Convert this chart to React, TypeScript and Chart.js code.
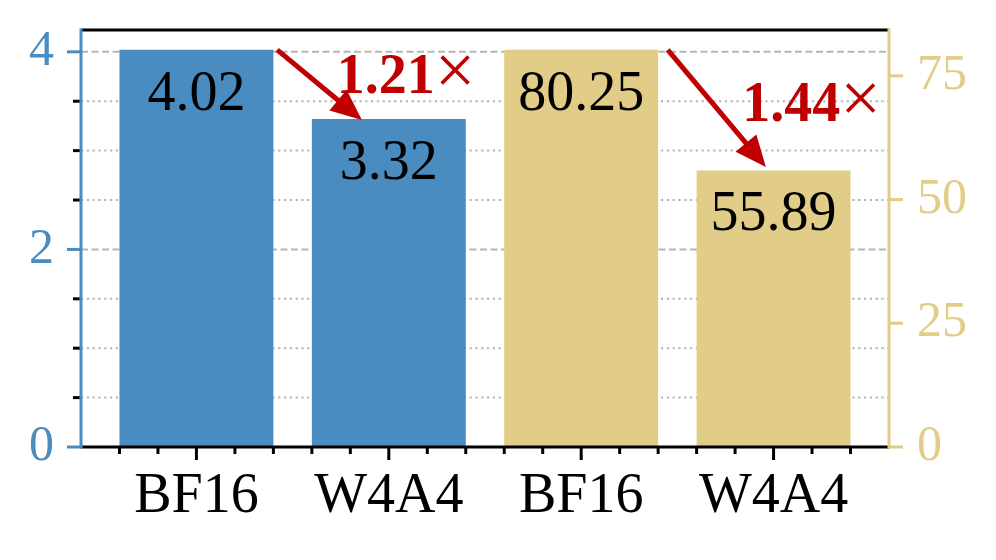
import { useEffect, useRef } from "react";
import { Chart, registerables } from "chart.js";

Chart.register(...registerables);

// ---- data ----
const categories = ["BF16", "W4A4", "BF16", "W4A4"];
const leftValues = [4.02, 3.32];
const rightValues = [80.25, 55.89];
const leftMajorTicks = [0, 2, 4];
const leftMinorTicks = [0.5, 1, 1.5, 2.5, 3, 3.5];
const rightMajorTicks = [0, 25, 50, 75];
const speedupLabels = ["1.21", "1.44"];

// annotation anchors (data coordinates): [x, y, axisId]
const arrowFrom: [number, number, string][] = [
  [0.42, 4.02, "y"],
  [2.45, 80.25, "y1"],
];
const arrowTo: [number, number, string][] = [
  [0.86, 3.31, "y"],
  [2.96, 56.6, "y1"],
];
const speedupAt: [number, number, string][] = [
  [1.09, 3.585, "y"],
  [3.197, 65.8, "y1"],
];

const SERIF = '"Liberation Serif", "Times New Roman", "DejaVu Serif", serif';
const RED = "#C00000";
const BLUE = "#4A8CBF";
const GOLD = "#E2CD88";
const GRID = "#b5b5b5";

function drawArrow(ctx: CanvasRenderingContext2D, x1: number, y1: number, x2: number, y2: number) {
  const ang = Math.atan2(y2 - y1, x2 - x1);
  const hl = 31;
  const hw = 13.5;
  const c = Math.cos(ang);
  const s = Math.sin(ang);
  const bx = x2 - hl * c;
  const by = y2 - hl * s;
  ctx.strokeStyle = RED;
  ctx.fillStyle = RED;
  ctx.lineWidth = 5;
  ctx.lineCap = "butt";
  ctx.setLineDash([]);
  ctx.beginPath();
  ctx.moveTo(x1, y1);
  ctx.lineTo(bx + 2 * c, by + 2 * s);
  ctx.stroke();
  ctx.beginPath();
  ctx.moveTo(x2, y2);
  ctx.lineTo(bx + hw * s, by - hw * c);
  ctx.lineTo(bx - hw * s, by + hw * c);
  ctx.closePath();
  ctx.fill();
}

const decorPlugin = {
  id: "decor",
  beforeDatasetsDraw(chart: any) {
    const { ctx, chartArea: a, scales } = chart;
    const y = scales.y;
    ctx.save();
    ctx.strokeStyle = GRID;
    ctx.lineWidth = 2;
    ctx.lineCap = "butt";
    const lines = [
      ...leftMajorTicks.filter((v) => v > 0).map((v) => ({ v, major: true })),
      ...leftMinorTicks.map((v) => ({ v, major: false })),
    ];
    for (const { v, major } of lines) {
      const py = y.getPixelForValue(v);
      ctx.setLineDash(major ? [7, 3.5] : [2.2, 3.6]);
      ctx.beginPath();
      ctx.moveTo(a.left, py);
      ctx.lineTo(a.right, py);
      ctx.stroke();
    }
    ctx.restore();
  },
  afterDatasetsDraw(chart: any) {
    const { ctx, chartArea: a, scales } = chart;
    const x = scales.x;
    const y = scales.y;
    const y1 = scales.y1;
    ctx.save();
    ctx.setLineDash([]);
    ctx.lineCap = "butt";

    // value labels
    ctx.font = `56px ${SERIF}`;
    ctx.fillStyle = "#000";
    ctx.textAlign = "center";
    ctx.textBaseline = "alphabetic";
    const allValues = [leftValues, rightValues];
    allValues.forEach((vals, di) => {
      const meta = chart.getDatasetMeta(di);
      vals.forEach((v, i) => {
        const el = meta.data[i];
        ctx.fillText(v.toFixed(2), el.x, el.y + 60);
      });
    });

    // ticks
    const tick = (x1: number, y1: number, x2: number, y2: number, color: string) => {
      ctx.strokeStyle = color;
      ctx.lineWidth = 3;
      ctx.beginPath();
      ctx.moveTo(x1, y1);
      ctx.lineTo(x2, y2);
      ctx.stroke();
    };
    for (const v of leftMinorTicks) {
      const py = y.getPixelForValue(v);
      tick(a.left, py, a.left - 8, py, "#000");
    }
    for (const v of leftMajorTicks) {
      const py = y.getPixelForValue(v);
      tick(a.left, py, a.left - 14, py, BLUE);
    }
    for (const v of rightMajorTicks) {
      const py = y1.getPixelForValue(v);
      tick(a.right, py, a.right + 14, py, GOLD);
    }
    for (let i = 0; i < categories.length; i++) {
      const px = x.getPixelForValue(i);
      tick(px, a.bottom, px, a.bottom + 13, "#000");
      for (const d of [-0.4, -0.2, 0.2, 0.4]) {
        const mx = x.getPixelForValue(i + d);
        tick(mx, a.bottom, mx, a.bottom + 7, "#000");
      }
    }

    // spines
    ctx.lineWidth = 3;
    ctx.strokeStyle = "#000";
    ctx.beginPath();
    ctx.moveTo(a.left, a.top);
    ctx.lineTo(a.right, a.top);
    ctx.moveTo(a.left, a.bottom);
    ctx.lineTo(a.right, a.bottom);
    ctx.stroke();
    ctx.strokeStyle = BLUE;
    ctx.beginPath();
    ctx.moveTo(a.left, a.top - 1.5);
    ctx.lineTo(a.left, a.bottom + 1.5);
    ctx.stroke();
    ctx.strokeStyle = GOLD;
    ctx.beginPath();
    ctx.moveTo(a.right, a.top - 1.5);
    ctx.lineTo(a.right, a.bottom + 1.5);
    ctx.stroke();

    // arrows
    const sc: any = { y, y1 };
    for (let i = 0; i < arrowFrom.length; i++) {
      const [fx, fy, fa] = arrowFrom[i];
      const [tx, ty, ta] = arrowTo[i];
      drawArrow(
        ctx,
        x.getPixelForValue(fx),
        sc[fa].getPixelForValue(fy),
        x.getPixelForValue(tx),
        sc[ta].getPixelForValue(ty)
      );
    }

    // speedup labels
    ctx.fillStyle = RED;
    ctx.textAlign = "left";
    ctx.textBaseline = "alphabetic";
    speedupLabels.forEach((lab, i) => {
      const [sx, sy, sa] = speedupAt[i];
      const cx = x.getPixelForValue(sx);
      const by = sc[sa].getPixelForValue(sy);
      const boldFont = `bold 56px ${SERIF}`;
      const crossFont = `72px ${SERIF}`;
      ctx.font = boldFont;
      const w1 = ctx.measureText(lab).width;
      ctx.font = crossFont;
      const w2 = ctx.measureText("×").width;
      const left = cx - (w1 + w2) / 2;
      ctx.font = boldFont;
      ctx.fillText(lab, left, by);
      ctx.font = crossFont;
      ctx.fillText("×", left + w1, by + 1);
    });

    ctx.restore();
  },
};

const zeroPad = (s: any) => {
  s.paddingTop = 0;
  s.paddingBottom = 0;
  s.paddingLeft = 0;
  s.paddingRight = 0;
};

export default function App() {
  const ref = useRef<HTMLCanvasElement | null>(null);
  useEffect(() => {
    document.body.style.margin = "0";
    const canvas = ref.current;
    if (!canvas) return;
    const chart = new Chart(canvas, {
      type: "bar",
      data: {
        datasets: [
          {
            data: leftValues.map((v, i) => ({ x: i, y: v })),
            yAxisID: "y",
            backgroundColor: BLUE,
          },
          {
            data: rightValues.map((v, i) => ({ x: i + leftValues.length, y: v })),
            yAxisID: "y1",
            backgroundColor: GOLD,
          },
        ],
      } as any,
      options: {
        responsive: false,
        animation: false,
        layout: { padding: { top: 30, left: 0, right: 0, bottom: 0 } },
        plugins: { legend: { display: false }, tooltip: { enabled: false } },
        datasets: {
          bar: { grouped: false, barPercentage: 0.8, categoryPercentage: 1 } as any,
        },
        scales: {
          x: {
            type: "linear",
            offset: false,
            min: -0.6,
            max: 3.6,
            grid: { display: false, drawTicks: false, offset: false },
            border: { display: false },
            afterBuildTicks: (s: any) => {
              s.ticks = categories.map((_, i) => ({ value: i }));
            },
            ticks: {
              callback: (v: any) => categories[v] ?? "",
              font: { family: SERIF, size: 56 },
              color: "#000",
              padding: 17,
              maxRotation: 0,
              autoSkip: false,
            },
            afterFit: (s: any) => {
              s.height = 113;
              zeroPad(s);
            },
          },
          y: {
            type: "linear",
            position: "left",
            min: 0,
            max: leftValues[0] * 1.05,
            grid: { display: false, drawTicks: false },
            border: { display: false },
            afterBuildTicks: (s: any) => {
              s.ticks = leftMajorTicks.map((v) => ({ value: v }));
            },
            ticks: {
              callback: (v: any) => String(v),
              font: { family: SERIF, size: 50 },
              color: BLUE,
              padding: 27,
            },
            afterFit: (s: any) => {
              s.width = 81;
              zeroPad(s);
            },
          },
          y1: {
            type: "linear",
            position: "right",
            min: 0,
            max: rightValues[0] * 1.05,
            grid: { display: false, drawTicks: false },
            border: { display: false },
            afterBuildTicks: (s: any) => {
              s.ticks = rightMajorTicks.map((v) => ({ value: v }));
            },
            ticks: {
              callback: (v: any) => String(v),
              font: { family: SERIF, size: 50 },
              color: GOLD,
              padding: 28,
            },
            afterFit: (s: any) => {
              s.width = 107;
              zeroPad(s);
            },
          },
        },
      } as any,
      plugins: [decorPlugin],
    });
    return () => chart.destroy();
  }, []);
  return (
    <div style={{ width: 996, height: 560, background: "#fff" }}>
      <canvas ref={ref} width={996} height={560} style={{ display: "block", width: 996, height: 560 }} />
    </div>
  );
}
